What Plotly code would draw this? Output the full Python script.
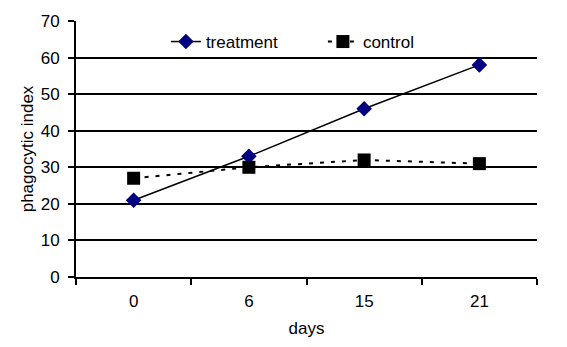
import plotly.graph_objects as go

days = ["0", "6", "15", "21"]
treatment = [21, 33, 46, 58]
control = [27, 30, 32, 31]
y_ticks = [0, 10, 20, 30, 40, 50, 60, 70]

FONT = "Liberation Sans, Arial, sans-serif"

fig = go.Figure()
fig.add_trace(go.Scatter(
    x=days, y=treatment, name="treatment", mode="lines+markers",
    line=dict(color="black", width=1.5),
    marker=dict(symbol="diamond", size=12, color="#000080"),
))
fig.add_trace(go.Scatter(
    x=days, y=control, name="control", mode="lines+markers",
    line=dict(color="black", width=2, dash="4px,7px"),
    marker=dict(symbol="square", size=13, color="black"),
))

fig.update_layout(
    width=567, height=347,
    margin=dict(l=76, r=30, t=20, b=69),
    paper_bgcolor="white", plot_bgcolor="white",
    font=dict(family=FONT, size=17, color="black"),
    showlegend=True,
    legend=dict(
        orientation="h", x=0.195, y=0.918, xanchor="left", yanchor="middle",
        bgcolor="rgba(0,0,0,0)", font=dict(size=17),
        entrywidth=112, entrywidthmode="pixels",
    ),
    xaxis=dict(
        type="category", range=[-0.5, 3.5],
        showgrid=False, showline=True, linecolor="black", linewidth=2,
        ticks="outside", tickson="boundaries", ticklen=6, tickwidth=2, tickcolor="black",
        ticklabelstandoff=8,
        title=dict(text="days", font=dict(size=17), standoff=12),
        tickfont=dict(size=17),
    ),
    yaxis=dict(
        range=[0, 70], tickvals=y_ticks,
        showgrid=True, gridcolor="black", gridwidth=2,
        showline=True, linecolor="black", linewidth=2,
        ticks="outside", ticklen=6, tickwidth=2, tickcolor="black",
        ticklabelstandoff=5,
        zeroline=False,
        title=dict(text="phagocytic index", font=dict(size=17), standoff=3),
        tickfont=dict(size=17),
    ),
)

fig.write_html("out.html")
